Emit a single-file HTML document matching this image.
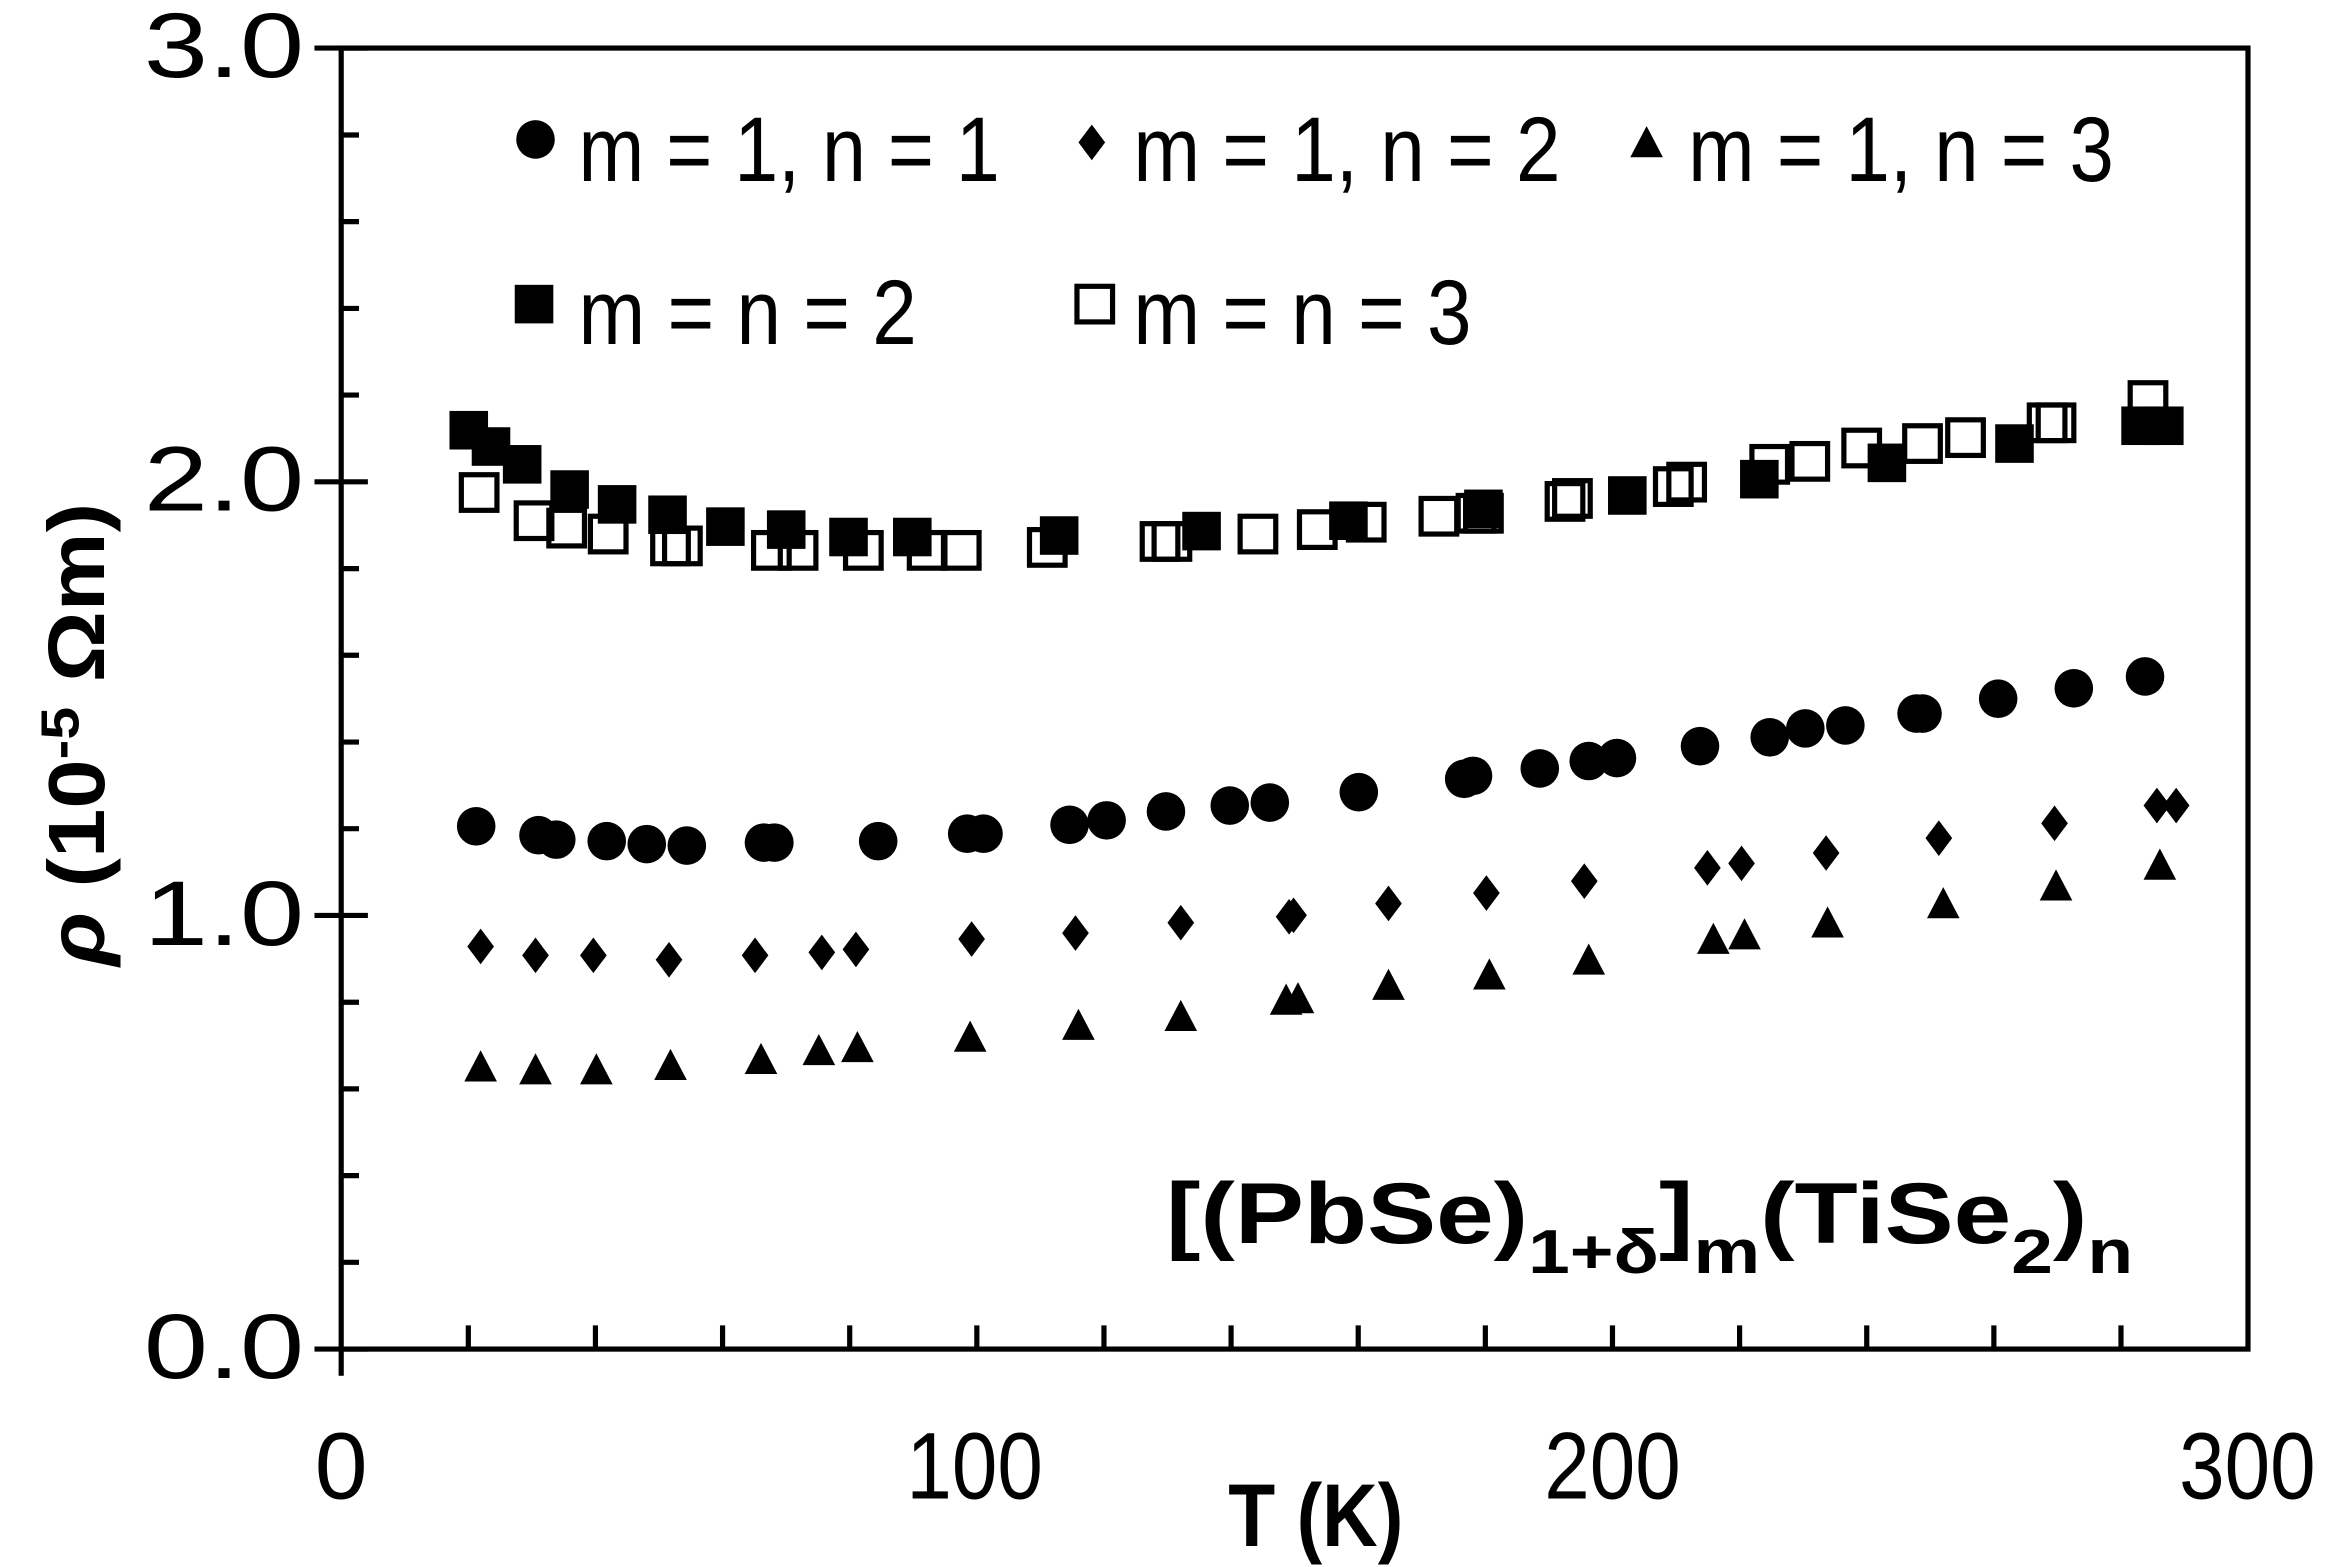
<!DOCTYPE html>
<html><head><meta charset="utf-8"><style>
html,body{margin:0;padding:0;background:#fff;}
svg{display:block;}
text{font-family:"Liberation Sans",sans-serif;fill:#000;}
</style></head><body>
<svg width="2326" height="1567" viewBox="0 0 1568 1056.3" preserveAspectRatio="none" xmlns="http://www.w3.org/2000/svg">
<defs>
<circle id="c" r="13" fill="#000"/>
<rect id="s" x="-13" y="-13" width="26" height="26" fill="#000"/>
<rect id="o" x="-12" y="-12" width="24" height="24" fill="none" stroke="#000" stroke-width="3.5"/>
<path id="d" d="M0,-12 L9,0 L0,12 L-9,0Z" fill="#000"/>
<path id="t" d="M0,-12 L11,9 L-11,9Z" fill="#000"/>
</defs>
<g stroke="#000" stroke-width="3.5" fill="none">
<rect x="230" y="32.4" width="1285.4" height="877"/>
<path d="M212,909.4H248M212,617.1H248M212,324.8H248M212,32.4H248"/>
<path d="M230,850.9h12M230,792.5h12M230,734h12M230,675.6h12M230,558.6h12M230,500.2h12M230,441.7h12M230,383.3h12M230,266.3h12M230,207.9h12M230,149.4h12M230,91h12"/>
<path d="M230,909.4v18"/>
<path d="M315.7,909.4v-16M401.4,909.4v-16M487.1,909.4v-16M572.8,909.4v-16M658.5,909.4v-16M744.2,909.4v-16M829.9,909.4v-16M915.6,909.4v-16M1001.3,909.4v-16M1087,909.4v-16M1172.7,909.4v-16M1258.4,909.4v-16M1344.1,909.4v-16M1429.8,909.4v-16"/>
</g>
<g font-size="62" text-anchor="end">
<text x="205" y="929" textLength="108" lengthAdjust="spacingAndGlyphs">0.0</text>
<text x="205" y="637" textLength="108" lengthAdjust="spacingAndGlyphs">1.0</text>
<text x="205" y="344" textLength="108" lengthAdjust="spacingAndGlyphs">2.0</text>
<text x="205" y="52" textLength="108" lengthAdjust="spacingAndGlyphs">3.0</text>
</g>
<g font-size="64" text-anchor="middle">
<text x="230" y="1010">0</text>
<text x="657" y="1010" textLength="92" lengthAdjust="spacingAndGlyphs">100</text>
<text x="1087" y="1010" textLength="92" lengthAdjust="spacingAndGlyphs">200</text>
<text x="1515" y="1010" textLength="92" lengthAdjust="spacingAndGlyphs">300</text>
</g>
<text x="887" y="1042" font-size="60" font-weight="bold" text-anchor="middle" textLength="118" lengthAdjust="spacingAndGlyphs">T (K)</text>
<text transform="translate(70,495) rotate(-90)" font-size="54" font-weight="bold" text-anchor="middle" textLength="312" lengthAdjust="spacingAndGlyphs"><tspan font-style="italic">ρ</tspan> (10<tspan font-size="36" dy="-17">-5</tspan><tspan dy="17"> Ωm)</tspan></text>
<!-- legend -->
<use href="#c" x="361" y="94"/>
<text x="390" y="122" font-size="62" textLength="284" lengthAdjust="spacingAndGlyphs">m = 1, n = 1</text>
<use href="#d" x="736" y="96"/>
<text x="764" y="122" font-size="62" textLength="288" lengthAdjust="spacingAndGlyphs">m = 1, n = 2</text>
<use href="#t" x="1110" y="97"/>
<text x="1138" y="122" font-size="62" textLength="287" lengthAdjust="spacingAndGlyphs">m = 1, n = 3</text>
<use href="#s" x="360" y="205"/>
<text x="390" y="232" font-size="62" textLength="228" lengthAdjust="spacingAndGlyphs">m = n = 2</text>
<use href="#o" x="738" y="205"/>
<text x="764" y="232" font-size="62" textLength="228" lengthAdjust="spacingAndGlyphs">m = n = 3</text>
<!-- formula -->
<text x="786" y="838" font-size="58" font-weight="bold" textLength="652" lengthAdjust="spacingAndGlyphs">[(PbSe)<tspan font-size="42" dy="20">1+δ</tspan><tspan dy="-20">]</tspan><tspan font-size="42" dy="20">m</tspan><tspan dy="-20">(TiSe</tspan><tspan font-size="42" dy="20">2</tspan><tspan dy="-20">)</tspan><tspan font-size="42" dy="20">n</tspan></text>
<g>
<use href="#s" x="316" y="290"/><use href="#s" x="331" y="301"/><use href="#s" x="352" y="313"/><use href="#s" x="384" y="330"/><use href="#s" x="416" y="340"/><use href="#s" x="450" y="347"/><use href="#s" x="489" y="355"/><use href="#s" x="530" y="357"/><use href="#s" x="572" y="362"/><use href="#s" x="615" y="362"/><use href="#s" x="714" y="361"/><use href="#s" x="810" y="358"/><use href="#s" x="909" y="351"/><use href="#s" x="1000" y="343"/><use href="#s" x="1097" y="334"/><use href="#s" x="1186" y="323"/><use href="#s" x="1272" y="312"/><use href="#s" x="1358" y="299"/><use href="#s" x="1443" y="287"/><use href="#s" x="1459" y="287"/>
</g>
<g>
<use href="#o" x="323" y="332"/><use href="#o" x="360" y="351"/><use href="#o" x="382" y="356"/><use href="#o" x="410" y="360"/><use href="#o" x="452" y="368"/><use href="#o" x="460" y="368"/><use href="#o" x="520" y="371"/><use href="#o" x="538" y="371"/><use href="#o" x="582" y="371"/><use href="#o" x="625" y="371"/><use href="#o" x="648" y="371"/><use href="#o" x="706" y="369"/><use href="#o" x="782" y="365"/><use href="#o" x="790" y="365"/><use href="#o" x="848" y="360"/><use href="#o" x="888" y="357"/><use href="#o" x="921" y="352"/><use href="#o" x="970" y="348"/><use href="#o" x="995" y="346"/><use href="#o" x="1000" y="346"/><use href="#o" x="1055" y="338"/><use href="#o" x="1060" y="336"/><use href="#o" x="1128" y="328"/><use href="#o" x="1137" y="325"/><use href="#o" x="1193" y="313"/><use href="#o" x="1220" y="311"/><use href="#o" x="1255" y="302"/><use href="#o" x="1296" y="299"/><use href="#o" x="1325" y="295"/><use href="#o" x="1380" y="285"/><use href="#o" x="1386" y="285"/><use href="#o" x="1448" y="270"/>
</g>
<g>
<use href="#c" x="321" y="557"/><use href="#c" x="363" y="563"/><use href="#c" x="375" y="566"/><use href="#c" x="409" y="567"/><use href="#c" x="436" y="569"/><use href="#c" x="463" y="570"/><use href="#c" x="515" y="568"/><use href="#c" x="522" y="568"/><use href="#c" x="592" y="567"/><use href="#c" x="652" y="562"/><use href="#c" x="663" y="562"/><use href="#c" x="721" y="556"/><use href="#c" x="746" y="553"/><use href="#c" x="786" y="547"/><use href="#c" x="829" y="543"/><use href="#c" x="856" y="541"/><use href="#c" x="916" y="534"/><use href="#c" x="987" y="525"/><use href="#c" x="993" y="523"/><use href="#c" x="1038" y="518"/><use href="#c" x="1071" y="513"/><use href="#c" x="1090" y="511"/><use href="#c" x="1146" y="503"/><use href="#c" x="1193" y="497"/><use href="#c" x="1217" y="491"/><use href="#c" x="1244" y="489"/><use href="#c" x="1292" y="481"/><use href="#c" x="1296" y="481"/><use href="#c" x="1347" y="471"/><use href="#c" x="1398" y="464"/><use href="#c" x="1446" y="456"/>
</g>
<g>
<use href="#d" x="324" y="638"/><use href="#d" x="361" y="644"/><use href="#d" x="400" y="644"/><use href="#d" x="451" y="647"/><use href="#d" x="509" y="644"/><use href="#d" x="554" y="642"/><use href="#d" x="577" y="640"/><use href="#d" x="655" y="633"/><use href="#d" x="725" y="629"/><use href="#d" x="796" y="622"/><use href="#d" x="869" y="618"/><use href="#d" x="872" y="617"/><use href="#d" x="936" y="609"/><use href="#d" x="1002" y="602"/><use href="#d" x="1068" y="594"/><use href="#d" x="1151" y="585"/><use href="#d" x="1174" y="582"/><use href="#d" x="1231" y="575"/><use href="#d" x="1307" y="565"/><use href="#d" x="1385" y="555"/><use href="#d" x="1454" y="543"/><use href="#d" x="1467" y="543"/>
</g>
<g>
<use href="#t" x="324" y="720"/><use href="#t" x="361" y="722"/><use href="#t" x="402" y="722"/><use href="#t" x="452" y="719"/><use href="#t" x="513" y="715"/><use href="#t" x="552" y="709"/><use href="#t" x="578" y="707"/><use href="#t" x="654" y="700"/><use href="#t" x="727" y="692"/><use href="#t" x="796" y="686"/><use href="#t" x="867" y="675"/><use href="#t" x="875" y="674"/><use href="#t" x="936" y="665"/><use href="#t" x="1004" y="658"/><use href="#t" x="1071" y="648"/><use href="#t" x="1155" y="634"/><use href="#t" x="1176" y="631"/><use href="#t" x="1232" y="623"/><use href="#t" x="1310" y="610"/><use href="#t" x="1386" y="598"/><use href="#t" x="1456" y="584"/>
</g>
</svg>
</body></html>
